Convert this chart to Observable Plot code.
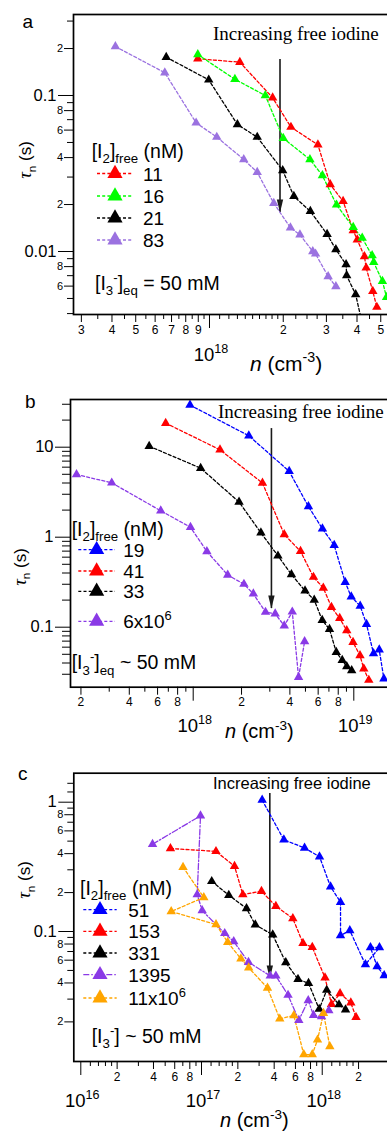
<!DOCTYPE html>
<html><head><meta charset="utf-8">
<script src="https://cdn.jsdelivr.net/npm/d3@7"></script>
<script src="https://cdn.jsdelivr.net/npm/@observablehq/plot@0.6"></script>
<style>
html,body{margin:0;padding:0;background:#fff;}
#wrap{position:relative;width:387px;height:1132px;overflow:hidden;background:#fff;}
#wrap > svg{position:absolute;left:0;}
</style></head><body><div id="wrap"></div>
<script>
// ================= DATA =================
// ---- Panel a : [I2]free (nM) ----
const aSeries = ["11", "16", "21", "83"];
const aColors = ["#ff0000", "#00ff00", "#000000", "#9b72e0"];
const aN11  = [8.96e17, 1.33e18, 1.81e18, 2.15e18, 2.77e18, 3.11e18, 3.51e18, 3.86e18, 4.01e18, 4.29e18, 4.36e18, 4.64e18, 4.82e18];
const aT11  = [0.172, 0.1635, 0.0967, 0.0627, 0.0483, 0.0269, 0.0210, 0.01364, 0.0119, 0.00929, 0.00786, 0.00556, 0.0044];
const aN16  = [8.96e17, 1.27e18, 1.69e18, 2.00e18, 2.57e18, 2.89e18, 3.30e18, 3.86e18, 4.20e18, 4.61e18, 4.68e18, 5.08e18, 5.28e18];
const aT16  = [0.183, 0.127, 0.100, 0.0532, 0.0389, 0.0307, 0.0199, 0.0143, 0.0122, 0.00942, 0.00853, 0.00645, 0.00509];
const aN21  = [6.66e17, 9.93e17, 1.30e18, 1.566e18, 1.99e18, 2.21e18, 2.58e18, 3.02e18, 3.28e18, 3.61e18, 3.63e18, 3.95e18, 4.21e18];
const aT21  = [0.176, 0.126, 0.0652, 0.0541, 0.0331, 0.0226, 0.0181, 0.0129, 0.0103, 0.00826, 0.00702, 0.0053, 0.0034];
const aN83  = [4.13e17, 6.57e17, 8.82e17, 1.071e18, 1.38e18, 1.566e18, 1.83e18, 2.14e18, 2.34e18, 2.64e18, 2.71e18, 3.05e18, 3.28e18];
const aT83  = [0.206, 0.140, 0.0668, 0.0541, 0.0389, 0.0322, 0.0204, 0.0142, 0.0128, 0.0100, 0.00966, 0.00691, 0.00597];
const aArrow = [{n: 1.94e18, top: 0.17, bottom: 0.0178}];

// ---- Panel b ----
const bSeries = ["19", "41", "33", "6x10^6"];
const bColors = ["#0000ff", "#ff0000", "#000000", "#8a3ae6"];
const bN19 = [9.55e17, 2.22e18, 3.96e18, 5.22e18, 6.38e18, 7.55e18, 8.84e18, 9.64e18, 1.096e19, 1.20e19, 1.327e19, 1.44e19, 1.54e19];
const bT19 = [29.4, 13.4, 5.40, 2.19, 1.24, 0.815, 0.316, 0.218, 0.172, 0.108, 0.0510, 0.0561, 0.0267];
const bN41 = [6.74e17, 1.469e18, 2.70e18, 3.69e18, 4.66e18, 5.61e18, 6.46e18, 7.26e18, 8.17e18, 9.04e18, 9.89e18, 1.093e19, 1.154e19, 1.24e19];
const bT41 = [18.5, 9.36, 4.00, 1.07, 0.697, 0.360, 0.273, 0.1668, 0.1256, 0.0919, 0.0681, 0.0485, 0.0345, 0.0258];
const bN33 = [5.32e17, 1.113e18, 1.93e18, 2.64e18, 3.37e18, 4.09e18, 4.97e18, 5.67e18, 6.36e18, 7.06e18, 7.78e18, 8.47e18, 9.04e18, 9.70e18];
const bT33 = [10.26, 5.85, 2.46, 1.12, 0.621, 0.386, 0.254, 0.201, 0.1197, 0.0948, 0.0528, 0.0430, 0.0366, 0.0330];
const bN6e6 = [1.877e17, 3.11e17, 6.28e17, 9.62e17, 1.217e18, 1.64e18, 2.07e18, 2.37e18, 2.82e18, 3.24e18, 3.69e18, 4.14e18, 4.53e18, 4.94e18];
const bT6e6 = [4.97, 4.02, 1.965, 1.29, 0.694, 0.380, 0.301, 0.235, 0.147, 0.141, 0.1038, 0.148, 0.0278, 0.0694];
const bArrow = [{n: 3.07e18, top: 16.1, bottom: 0.161}];

// ---- Panel c ----
const cSeries = ["51", "153", "331", "1395", "11x10^6"];
const cColors = ["#0000ff", "#ff0000", "#000000", "#8a3ae6", "#ffa500"];
const cN51 = [3.18e17, 4.81e17, 7.14e17, 9.50e17, 1.172e18, 1.418e18, 1.418e18, 1.693e18, 2.28e18, 2.98e18, 2.51e18, 2.85e18, 3.26e18];
const cT51 = [1.04, 0.512, 0.443, 0.379, 0.222, 0.1686, 0.0931, 0.1018, 0.0556, 0.0752, 0.0752, 0.0536, 0.0457];
const cN153 = [5.53e16, 1.318e17, 1.877e17, 2.20e17, 3.14e17, 4.13e17, 5.71e17, 6.93e17, 8.27e17, 1.055e18, 1.194e18, 1.405e18, 1.726e18, 1.905e18];
const cT153 = [0.4385, 0.4165, 0.3199, 0.193, 0.205, 0.157, 0.126, 0.0812, 0.0756, 0.0439, 0.0274, 0.0332, 0.0281, 0.0217];
const cN331 = [1.215e17, 1.683e17, 2.36e17, 2.79e17, 3.89e17, 4.99e17, 6.30e17, 7.70e17, 9.44e17, 1.089e18, 1.377e18, 1.56e18];
const cT331 = [0.2443, 0.191, 0.1507, 0.1129, 0.0943, 0.0576, 0.0427, 0.0398, 0.0251, 0.0352, 0.0272, 0.0248];
const cN1395 = [3.93e16, 9.81e16, 9.21e16, 1.013e17, 1.557e17, 1.849e17, 2.45e17, 3.71e17, 4.13e17, 5.21e17, 6.40e17, 7.66e17, 8.47e17, 9.87e17, 1.134e18];
const cT1395 = [0.473, 0.785, 0.193, 0.1453, 0.0968, 0.0837, 0.0579, 0.0454, 0.0454, 0.0322, 0.0206, 0.0293, 0.0225, 0.0220, 0.0245];
const cN11e6 = [7.03e16, 1.045e17, 5.61e16, 1.318e17, 1.648e17, 2.12e17, 2.46e17, 3.52e17, 4.45e17, 5.82e17, 7.04e17, 8.27e17, 9.14e17, 1.025e18, 1.156e18];
const cT11e6 = [0.3143, 0.1833, 0.1428, 0.1133, 0.0827, 0.0615, 0.0524, 0.0366, 0.0211, 0.0224, 0.01118, 0.01118, 0.01453, 0.0233, 0.0129];
const cArrow = [{n: 3.68e17, top: 1.17, bottom: 0.0433}];

// ---- tick values ----
const aYMajor = [0.1, 0.01];
const aYLab = [0.2, 0.08, 0.06, 0.04, 0.02, 0.008, 0.006];
const aYMinor = [0.3, 0.09, 0.07, 0.05, 0.03, 0.009, 0.007, 0.005, 0.004];
const aXMajor = [1e18];
const aXLab = [3e17, 4e17, 5e17, 6e17, 7e17, 8e17, 9e17, 2e18, 3e18, 4e18, 5e18];
const aXMinor = [3.5e17, 4.5e17, 5.5e17, 6.5e17, 7.5e17, 8.5e17, 9.5e17, 1.1e18, 1.2e18, 1.3e18, 1.4e18, 1.5e18, 1.6e18, 1.7e18, 1.8e18, 1.9e18, 2.25e18, 2.5e18, 2.75e18, 3.5e18, 4.5e18, 5.5e18];

const bYMajor = [10, 1, 0.1];
const bYLab = [];
const bYMinor = [30, 20, 9, 8, 7, 6, 5, 4, 3, 2, 0.9, 0.8, 0.7, 0.6, 0.5, 0.4, 0.3, 0.2, 0.09, 0.08, 0.07, 0.06, 0.05, 0.04, 0.03];
const bXMajor = [1e18, 1e19];
const bXLab = [2e17, 4e17, 6e17, 8e17, 2e18, 4e18, 6e18, 8e18];
const bXMinor = [3e17, 5e17, 7e17, 9e17, 3e18, 5e18, 7e18, 9e18, 2e19];

const cYMajor = [1, 0.1];
const cYLab = [0.8, 0.6, 0.4, 0.2, 0.08, 0.06, 0.04, 0.02];
const cYMinor = [1.4, 1.2, 0.9, 0.7, 0.5, 0.3, 0.09, 0.07, 0.05, 0.03];
const cXMajor = [1e16, 1e17, 1e18];
const cXLab = [2e16, 4e16, 6e16, 8e16, 2e17, 4e17, 6e17, 8e17, 2e18];
const cXMinor = [1.2e16, 1.4e16, 1.6e16, 1.8e16, 3e16, 5e16, 7e16, 9e16, 1.2e17, 1.4e17, 1.6e17, 1.8e17, 3e17, 5e17, 7e17, 9e17, 1.2e18, 1.4e18, 1.6e18, 1.8e18];

// ================= RENDER =================
const SANS = "Liberation Sans, Arial, sans-serif";
const SERIF = "Liberation Serif, Times New Roman, serif";
const W = 430;
const rows = (ns, ts) => ns.map((n, i) => ({n, tau: ts[i]}));
const lead = d => { const e = Math.floor(Math.log10(d) + 1e-9); return String(Math.round(d / 10 ** e)); };
const arrowHead = { draw(ctx) { ctx.moveTo(0, 0); ctx.lineTo(-3.2, -13); ctx.lineTo(3.2, -13); ctx.closePath(); } };
const wrap = document.getElementById("wrap");

function rich(svg, x, y, parts, o = {}) {
  const size = o.size || 16;
  const t = d3.select(svg).append("text").attr("x", x).attr("y", y)
    .attr("font-size", size).attr("font-family", o.family || SANS)
    .attr("text-anchor", o.anchor || "start").attr("fill", "#000");
  if (o.rotate) t.attr("transform", `rotate(-90 ${x} ${y})`);
  let off = 0;
  for (const p of parts) {
    const [s, k] = Array.isArray(p) ? p : [p, "n"];
    const target = k === "sub" ? size * 0.28 : k === "sup" ? -size * 0.42 : 0;
    const ts = t.append("tspan").attr("dy", target - off).text(s);
    if (k === "sub" || k === "sup") ts.attr("font-size", size * 0.68);
    if (k === "it") ts.attr("font-style", "italic");
    if (k === "tau") ts.attr("font-style", "italic").attr("font-family", SERIF).attr("font-size", size * 1.1);
    off = target;
  }
  return t;
}

function panel(cfg) {
  const marks = [];
  const yo = {anchor: "left", label: null, tickFormat: () => ""};
  const xo = {anchor: "bottom", label: null, tickFormat: () => ""};
  // tick marks
  marks.push(Plot.axisY(cfg.yMajor, {...yo, tickSize: 15}));
  if (cfg.yLab.length) marks.push(Plot.axisY(cfg.yLab, {...yo, tickSize: 9}));
  marks.push(Plot.axisY(cfg.yMinor, {...yo, tickSize: cfg.yMinorSize || 6}));
  marks.push(Plot.axisX(cfg.xMajor, {...xo, tickSize: 14}));
  marks.push(Plot.axisX(cfg.xLab, {...xo, tickSize: 8}));
  marks.push(Plot.axisX(cfg.xMinor, {...xo, tickSize: 5}));
  // tick labels
  marks.push(Plot.text(cfg.yMajor, {y: d => d, text: d => String(d), frameAnchor: "left", dx: -17, textAnchor: "end", fontSize: 16.5, fontFamily: SANS, fill: "#000"}));
  if (cfg.yLab.length) marks.push(Plot.text(cfg.yLab, {y: d => d, text: lead, frameAnchor: "left", dx: -10.5, textAnchor: "end", fontSize: 11, fontFamily: SANS, fill: "#000"}));
  marks.push(Plot.text(cfg.xLab, {x: d => d, text: lead, frameAnchor: "bottom", dy: 10.5, lineAnchor: "top", fontSize: 12, fontFamily: SANS, fill: "#000"}));
  // arrow
  marks.push(Plot.ruleX(cfg.arrow, {x: "n", y1: "top", y2: "bottom", stroke: "#1a1a1a", strokeWidth: 1.6}));
  marks.push(Plot.dot(cfg.arrow, {x: "n", y: "bottom", symbol: arrowHead, r: 3, fill: "#1a1a1a"}));
  // series
  cfg.series.forEach(s => marks.push(Plot.line(s.data, {x: "n", y: "tau", stroke: s.color, strokeWidth: 1.3, strokeDasharray: s.dash || "3,2.2", clip: true})));
  cfg.series.forEach(s => marks.push(Plot.dot(s.data, {x: "n", y: "tau", fill: s.color, symbol: "triangle", r: 3.5, clip: true})));
  marks.push(Plot.frame({stroke: "#000", strokeWidth: 1.7}));
  const svg = Plot.plot({
    width: W, height: cfg.height,
    marginLeft: cfg.ml, marginRight: 0, marginTop: cfg.mt, marginBottom: cfg.mb,
    x: {type: "log", domain: cfg.xdom},
    y: {type: "log", domain: cfg.ydom},
    style: {fontFamily: SANS, color: "#000", background: "transparent", maxWidth: "none", overflow: "visible"},
    marks
  });
  svg.style.top = cfg.top + "px";
  wrap.appendChild(svg);
  const T = cfg.top;
  const A = cfg.ann;
  rich(svg, A.letter[0], A.letter[1] - T, [cfg.letter], {size: 19});
  rich(svg, A.title[0], A.title[1] - T, ["Increasing free iodine"], {size: A.titleSize, family: A.titleFamily});
  rich(svg, A.ylab[0], A.ylab[1] - T, [["τ", "tau"], ["n", "sub"], " (s)"], {size: 17, rotate: true, anchor: "middle"});
  rich(svg, A.head[0], A.head[1] - T, ["[I", ["2", "sub"], "]", ["free", "sub"], " (nM)"], {size: 19.5});
  cfg.series.forEach((s, i) => {
    const yb = A.rows[i] - T;
    const g = d3.select(svg);
    g.append("line").attr("x1", A.line[0]).attr("x2", A.line[1]).attr("y1", yb - 7).attr("y2", yb - 7)
      .attr("stroke", s.color).attr("stroke-width", 1.3).attr("stroke-dasharray", s.dash || "3,2.2");
    g.append("path").attr("d", d3.symbol(d3.symbolTriangle, 100)())
      .attr("transform", `translate(${(A.line[0] + A.line[1]) / 2},${yb - 7})`).attr("fill", s.color);
    const lab = s.name.includes("^") ? [s.name.split("^")[0], [s.name.split("^")[1], "sup"]] : [s.name];
    rich(svg, A.text, yb, lab, {size: 19});
  });
  rich(svg, A.note[0], A.note[1] - T, cfg.note, {size: 19.5});
  const xs = svg.scale("x");
  cfg.xMajor.forEach(v => {
    const e = Math.round(Math.log10(v));
    rich(svg, xs.apply(v) + 2, A.decade - T, ["10", [String(e), "sup"]], {size: 18.5, anchor: "middle"});
  });
  rich(svg, A.xlab[0], A.xlab[1] - T, [["n", "it"], " (cm", ["-3", "sup"], ")"], {size: A.xlabSize});
}

panel({
  letter: "a", top: 0, height: 372, ml: 73, mt: 14, mb: 58,
  xdom: [10 ** 17.445, 10 ** 18.902], ydom: [10 ** -2.4038, 10 ** -0.4808],
  yMajor: aYMajor, yLab: aYLab, yMinor: aYMinor, xMajor: aXMajor, xLab: aXLab, xMinor: aXMinor,
  arrow: aArrow,
  series: [
    {name: aSeries[0], color: aColors[0], data: rows(aN11, aT11)},
    {name: aSeries[1], color: aColors[1], data: rows(aN16, aT16)},
    {name: aSeries[2], color: aColors[2], data: rows(aN21, aT21)},
    {name: aSeries[3], color: aColors[3], data: rows(aN83, aT83)}
  ],
  note: ["[I", ["3", "sub"], ["-", "sup"], "]", ["eq", "sub"], " = 50 mM"],
  ann: {letter: [22.5, 28.3], title: [213, 40], titleSize: 19, titleFamily: SERIF, ylab: [31, 160],
        head: [91.7, 158], rows: [180.5, 203, 225, 247], text: 143, line: [97, 133],
        note: [95, 290], decade: 361, xlab: [250, 371], xlabSize: 21}
});

panel({
  letter: "b", top: 372, height: 373, ml: 70, mt: 27, mb: 58.3,
  xdom: [10 ** 17.236, 10 ** 19.4776], ydom: [10 ** -1.6667, 10 ** 1.530],
  yMajor: bYMajor, yLab: bYLab, yMinor: bYMinor, yMinorSize: 8, xMajor: bXMajor, xLab: bXLab, xMinor: bXMinor,
  arrow: bArrow,
  series: [
    {name: bSeries[0], color: bColors[0], data: rows(bN19, bT19)},
    {name: bSeries[1], color: bColors[1], data: rows(bN41, bT41)},
    {name: bSeries[2], color: bColors[2], data: rows(bN33, bT33)},
    {name: bSeries[3], color: bColors[3], data: rows(bN6e6, bT6e6)}
  ],
  note: ["[I", ["3", "sub"], ["-", "sup"], "]", ["eq", "sub"], " ~ 50 mM"],
  ann: {letter: [25, 408.3], title: [218, 418.3], titleSize: 19, titleFamily: SERIF, ylab: [25.5, 567],
        head: [71.7, 536], rows: [556.7, 578, 598.3, 628.3], text: 123.3, line: [78.3, 115],
        note: [71.7, 669.3], decade: 732, xlab: [225, 738], xlabSize: 20}
});

panel({
  letter: "c", top: 745, height: 387, ml: 73.3, mt: 27.7, mb: 71,
  xdom: [10 ** 15.942, 10 ** 18.897], ydom: [10 ** -2.0054, 10 ** 0.2243],
  yMajor: cYMajor, yLab: cYLab, yMinor: cYMinor, xMajor: cXMajor, xLab: cXLab, xMinor: cXMinor,
  arrow: cArrow,
  series: [
    {name: cSeries[0], color: cColors[0], data: rows(cN51, cT51)},
    {name: cSeries[1], color: cColors[1], data: rows(cN153, cT153)},
    {name: cSeries[2], color: cColors[2], data: rows(cN331, cT331)},
    {name: cSeries[3], color: cColors[3], data: rows(cN1395, cT1395), dash: "6,2,1.5,2"},
    {name: cSeries[4], color: cColors[4], data: rows(cN11e6, cT11e6)}
  ],
  note: ["[I", ["3", "sub"], ["-", "sup"], "] ~ 50 mM"],
  ann: {letter: [18, 780], title: [213, 789], titleSize: 16.5, titleFamily: SANS, ylab: [30, 880],
        head: [80, 895], rows: [916.7, 938.3, 960, 981.7, 1005], text: 128.3, line: [83.3, 116.7],
        note: [91.7, 1043], decade: 1106.7, xlab: [220, 1127], xlabSize: 20}
});
</script>
</body></html>
